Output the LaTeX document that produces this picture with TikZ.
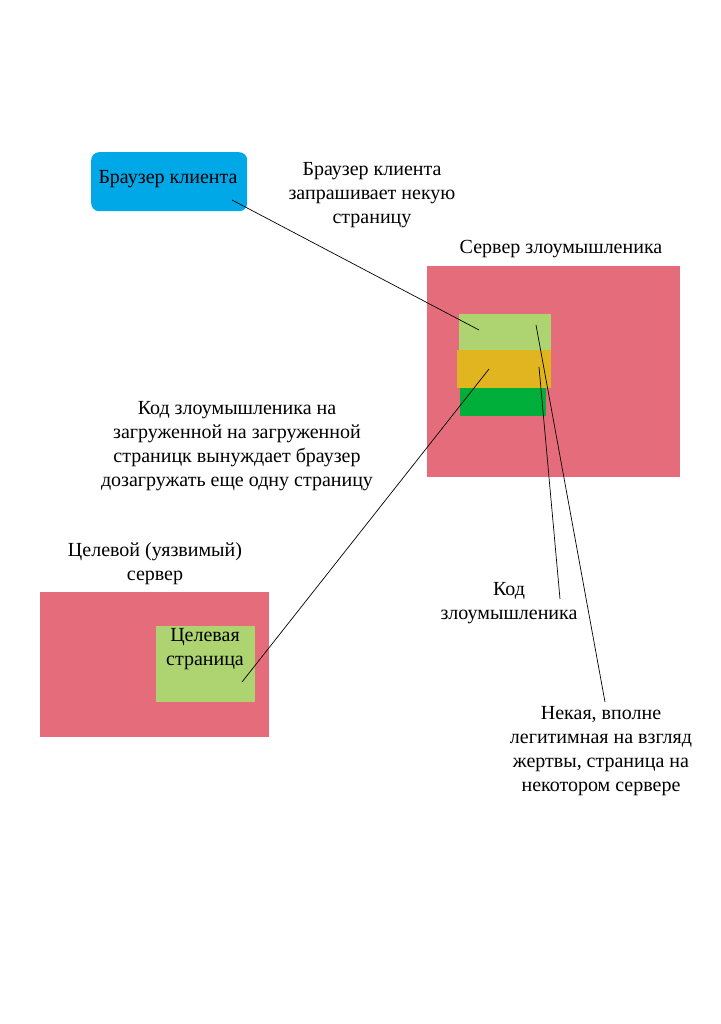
\documentclass[tikz,border=0pt]{standalone}
\usepackage{fontspec}
\setmainfont{Liberation Serif}
\usepackage{xcolor}
\usetikzlibrary{positioning}

\definecolor{client_blue}{RGB}{0,168,232}
\definecolor{server_red}{RGB}{229,109,123}
\definecolor{page_green}{RGB}{173,212,113}
\definecolor{code_yellow}{RGB}{224,181,31}
\definecolor{dark_green}{RGB}{0,175,58}

\begin{document}
\begin{tikzpicture}[
    x=1pt, y=-1pt,
    box_style/.style={draw=none, inner sep=0pt, anchor=north west},
    text_style/.style={align=center, inner sep=0pt, font=\fontsize{20}{24}\selectfont},
    line_style/.style={black, line width=0.7pt}
]
    \useasboundingbox (0,0) rectangle (720,1024);

    % Boxes
    \node[box_style, fill=client_blue, rounded corners=8pt, minimum width=156, minimum height=59] (browser) at (91,152) {};
    \node[box_style, fill=server_red, minimum width=253, minimum height=211] (evil_server) at (427,266) {};
    \node[box_style, fill=page_green, minimum width=92, minimum height=40] (legit_page) at (459,314) {};
    \node[box_style, fill=code_yellow, minimum width=94, minimum height=38] (evil_code) at (457,350) {};
    \node[box_style, fill=dark_green, minimum width=86, minimum height=28] (page_rest) at (460,388) {};
    \node[box_style, fill=server_red, minimum width=229, minimum height=145] (target_server) at (40,592) {};
    \node[box_style, fill=page_green, minimum width=99, minimum height=76] (target_page) at (156,626) {};

    % Texts
    \node[text_style] (browser_text) at (168,179) {Браузер клиента};
    \node[text_style] (request_text) at (372,195) {Браузер клиента\\запрашивает некую\\страницу};
    \node[text_style] (evil_title) at (561,249) {Сервер злоумышленика};
    \node[text_style] (redirect_text) at (237,446) {Код злоумышленика на\\загруженной на загруженной\\страницк вынуждает браузер\\дозагружать еще одну страницу};
    \node[text_style] (target_title) at (155,564) {Целевой (уязвимый)\\сервер};
    \node[text_style] (target_text) at (205,649) {Целевая\\страница};
    \node[text_style] (code_text) at (509,603) {Код\\злоумышленика};
    \node[text_style] (legit_text) at (601,751) {Некая, вполне\\легитимная на взгляд\\жертвы, страница на\\некотором сервере};

    % Line ends
    \coordinate (browser_end) at (232,200);
    \coordinate (legit_end) at (479,330);
    \coordinate (code_start) at (489,369);
    \coordinate (target_end) at (242,682);
    \coordinate (legit_note) at (536,325);
    \coordinate (legit_note_end) at (605,702);
    \coordinate (code_note) at (539,367);
    \coordinate (code_note_end) at (560,599);

    % Lines
    \draw[line_style] (browser_end) -- (legit_end);
    \draw[line_style] (code_start) -- (target_end);
    \draw[line_style] (legit_note) -- (legit_note_end);
    \draw[line_style] (code_note) -- (code_note_end);
\end{tikzpicture}
\end{document}
